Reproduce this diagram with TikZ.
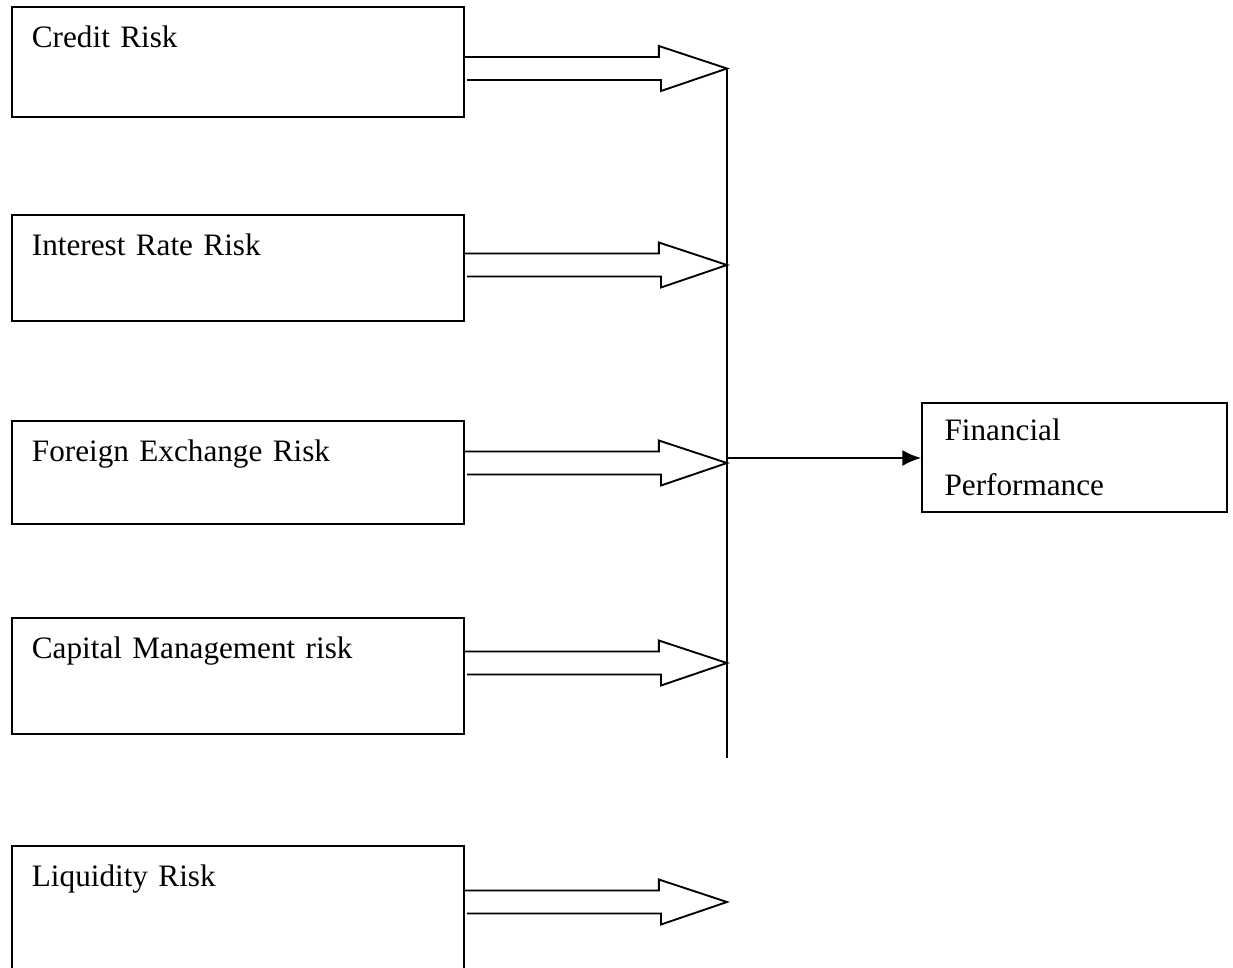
\documentclass[tikz,border=0pt]{standalone}
\usepackage{fontspec}
\setmainfont{Liberation Serif}
\usetikzlibrary{arrows.meta}

\tikzset{
  riskbox/.style={draw, line width=1.4pt, anchor=north west, text width=309pt, align=left,
    inner xsep=15pt, inner ysep=0pt, text height=30.4pt},
  fatarrow/.style={draw, line width=1.4pt, line join=miter},
}

\begin{document}
\begin{tikzpicture}[x=0.75pt, y=-0.75pt, font=\fontsize{23.4}{41}\selectfont]

\clip (0,0) rectangle (1233,968);

% risk boxes
\node [riskbox, text depth=52.1pt] (credit) at (11,6) {Credit Risk};
\node [riskbox, text depth=49.1pt] (interest) at (11,214) {Interest Rate Risk};
\node [riskbox, text depth=46.9pt] (forex) at (11,420) {Foreign Exchange Risk};
\node [riskbox, text depth=56.6pt] (capital) at (11,617) {Capital Management risk};
\node [riskbox, text depth=74.6pt] (liquidity) at (11,845) {Liquidity Risk};

% outcome box
\node [draw, line width=1.4pt, anchor=north west, text width=195pt, align=left,
  inner xsep=17pt, inner ysep=0pt, minimum height=81.75pt] (perf) at (921,402) {Financial\\Performance};

% points on the bar
\coordinate (t1) at (727,68.5);
\coordinate (t2) at (727,265);
\coordinate (t3) at (727,463);
\coordinate (t4) at (727,663);
\coordinate (t5) at (727,902);
\coordinate (bartop) at (727,68.5);
\coordinate (barbot) at (727,758);
\coordinate (hub) at (727,458);

% draw hollow arrows
\draw [fatarrow] (credit.east |- t1) ++(0,-11.5) -- ++(194,0) -- ++(0,-11) -- (t1) -- ++(-66,22.5) -- ++(0,-11) -- ++(-194,0);
\draw [fatarrow] (interest.east |- t2) ++(0,-11.5) -- ++(194,0) -- ++(0,-11) -- (t2) -- ++(-66,22.5) -- ++(0,-11) -- ++(-194,0);
\draw [fatarrow] (forex.east |- t3) ++(0,-11.5) -- ++(194,0) -- ++(0,-11) -- (t3) -- ++(-66,22.5) -- ++(0,-11) -- ++(-194,0);
\draw [fatarrow] (capital.east |- t4) ++(0,-11.5) -- ++(194,0) -- ++(0,-11) -- (t4) -- ++(-66,22.5) -- ++(0,-11) -- ++(-194,0);
\draw [fatarrow] (liquidity.east |- t5) ++(0,-11.5) -- ++(194,0) -- ++(0,-11) -- (t5) -- ++(-66,22.5) -- ++(0,-11) -- ++(-194,0);

% draw bar and output arrow
\draw [line width=1.4pt] (bartop) -- (barbot);
\draw [line width=1.4pt, -{Latex[length=14pt,width=12pt]}] (hub) -- (hub -| perf.west);

\end{tikzpicture}
\end{document}
